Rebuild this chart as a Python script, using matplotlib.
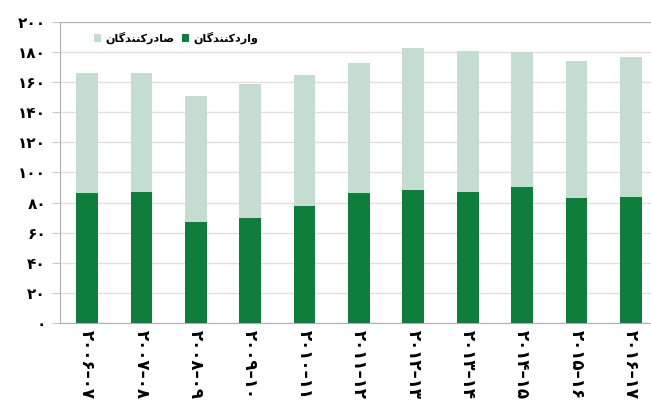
import matplotlib.pyplot as plt
import numpy as np

# values (thousands)
years = ['۲۰۰۶–۰۷', '۲۰۰۷–۰۸', '۲۰۰۸–۰۹', '۲۰۰۹–۱۰', '۲۰۱۰–۱۱', '۲۰۱۱–۱۲',
         '۲۰۱۲–۱۳', '۲۰۱۳–۱۴', '۲۰۱۴–۱۵', '۲۰۱۵–۱۶', '۲۰۱۶–۱۷']
importers = [86, 87, 67, 70, 78, 86, 88, 87, 90, 83, 84]
exporters = [80, 79, 84, 89, 87, 87, 95, 94, 90, 91, 93]
yticks = [0, 20, 40, 60, 80, 100, 120, 140, 160, 180, 200]
ytick_labels = ['۰', '۲۰', '۴۰', '۶۰', '۸۰', '۱۰۰', '۱۲۰', '۱۴۰', '۱۶۰', '۱۸۰', '۲۰۰']
label_importers = 'واردکنندگان'
label_exporters = 'صادرکنندگان'

# matplotlib has no arabic shaping, so pick the joined forms by hand
FORMS = {  # iso, final, initial, medial (None = joins right only)
    'و': ('\uFEED', '\uFEEE', None, None),
    'ا': ('\uFE8D', '\uFE8E', None, None),
    'ر': ('\uFEAD', '\uFEAE', None, None),
    'د': ('\uFEA9', '\uFEAA', None, None),
    'ک': ('\uFB8E', '\uFB8F', '\uFB90', '\uFB91'),
    'ن': ('\uFEE5', '\uFEE6', '\uFEE7', '\uFEE8'),
    'گ': ('\uFB92', '\uFB93', '\uFB94', '\uFB95'),
    'ص': ('\uFEB9', '\uFEBA', '\uFEBB', '\uFEBC'),
}


def shape(word):
    out = []
    for i, ch in enumerate(word):
        f = FORMS[ch]
        prev_joins = i > 0 and FORMS[word[i - 1]][2] is not None
        next_joins = f[2] is not None and i + 1 < len(word)
        if prev_joins and next_joins:
            out.append(f[3])
        elif prev_joins:
            out.append(f[1])
        elif next_joins:
            out.append(f[2])
        else:
            out.append(f[0])
    return ''.join(reversed(out))


plt.rcParams['font.family'] = ['DejaVu Sans']

fig = plt.figure(figsize=(6.51, 4.15), dpi=100)
ax = fig.add_axes([0.092, 0.222, 0.908, 0.725])

x = np.arange(len(years))
dark = '#0f7d3c'
light = '#c4ddd0'
ax.bar(x, exporters, 0.4, bottom=importers, color=light, label=shape(label_exporters), zorder=3)
ax.bar(x, importers, 0.4, color=dark, label=shape(label_importers), zorder=3)

ax.set_ylim(0, 200)
ax.set_xlim(-0.5, 10.37)
ax.set_yticks(yticks)
ax.set_yticklabels(ytick_labels, fontsize=11, fontweight='bold')
ax.set_xticks(x)
ax.set_xticklabels(years, rotation=-90, fontsize=12, fontweight='bold')
ax.tick_params(axis='x', length=0, pad=5)
ax.tick_params(axis='y', length=6, color='#c8c8c8', pad=4)

ax.grid(axis='y', color='#e6dcdc', linewidth=1, zorder=0)
for s in ['top', 'right']:
    ax.spines[s].set_visible(False)
ax.spines['left'].set_color('#b0b0b0')
ax.spines['bottom'].set_color('#b0b0b0')
ax.axhline(200, color='#b0b0b0', linewidth=1.5, zorder=4)

ax.legend(loc='upper left', bbox_to_anchor=(0.04, 1.0), ncol=2, frameon=False,
          prop={'weight': 'bold', 'size': 8}, handlelength=0.7, handleheight=0.7,
          columnspacing=0.6, handletextpad=0.4)

plt.savefig('out.png', dpi=100)
